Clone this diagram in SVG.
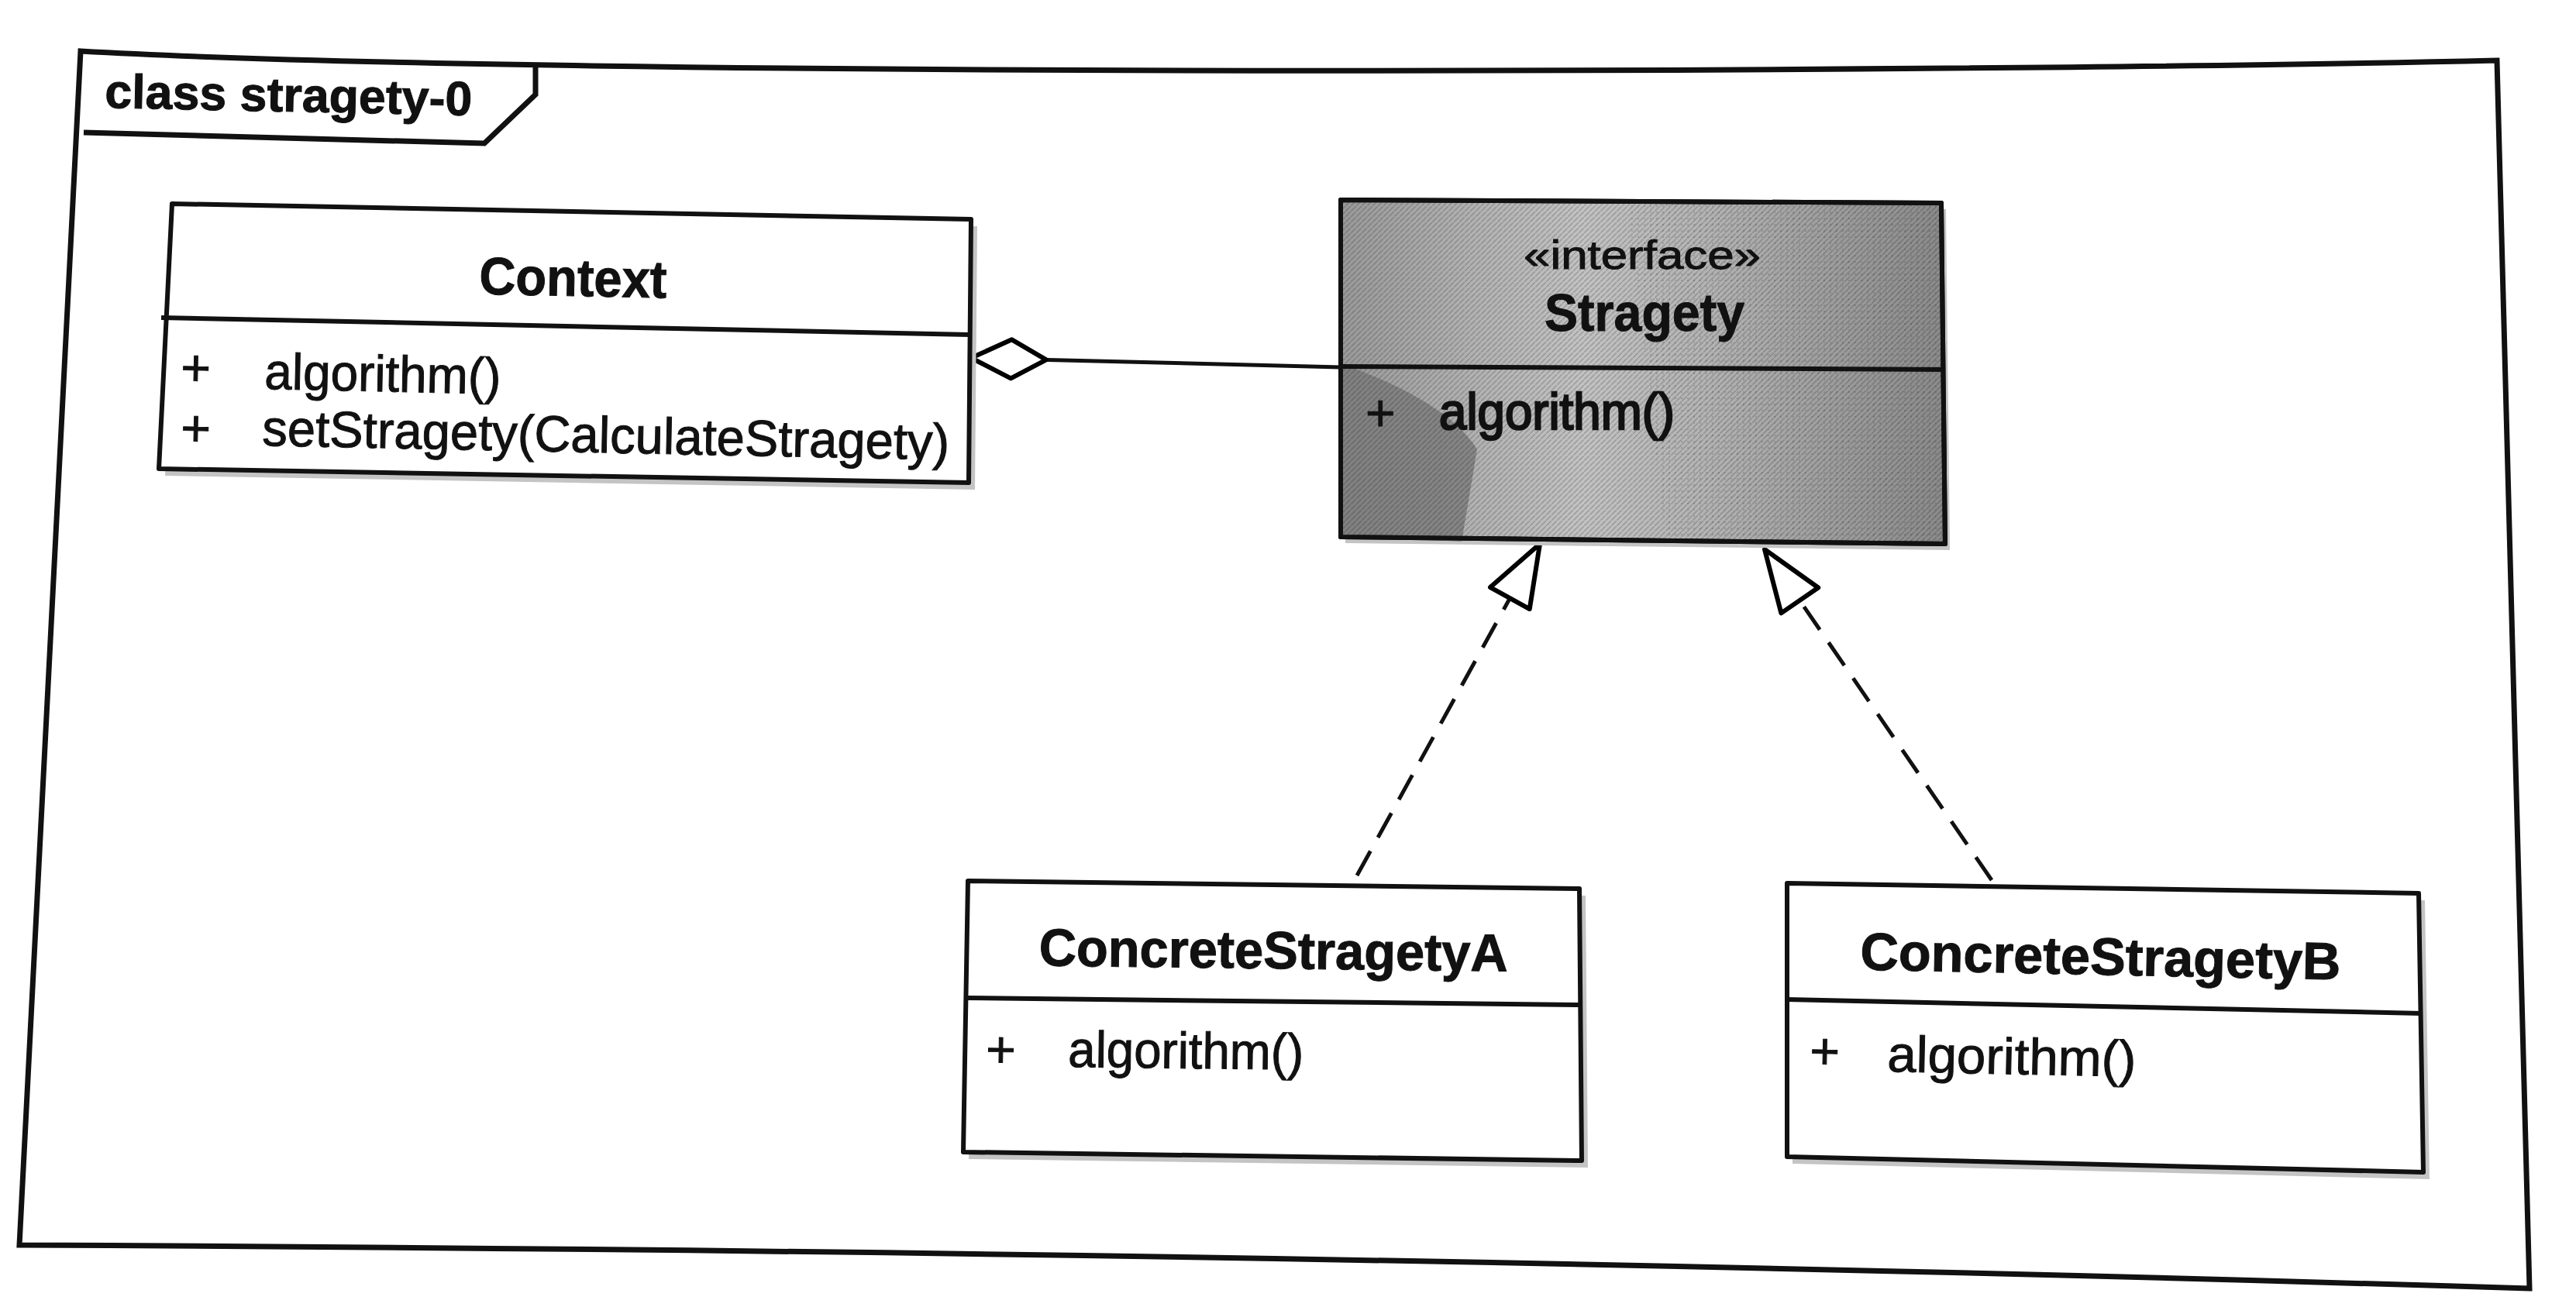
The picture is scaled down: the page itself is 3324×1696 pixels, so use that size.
<svg xmlns="http://www.w3.org/2000/svg" width="3324" height="1696" viewBox="0 0 3324 1696">
<defs>
<linearGradient id="ifaceFill" x1="1730" y1="0" x2="2510" y2="0" gradientUnits="userSpaceOnUse">
<stop offset="0" stop-color="#999"/>
<stop offset="0.22" stop-color="#b2b2b2"/>
<stop offset="0.4" stop-color="#c2c2c2"/>
<stop offset="0.6" stop-color="#b4b4b4"/>
<stop offset="1" stop-color="#8a8a8a"/>
</linearGradient>
<pattern id="hatch" width="7" height="7" patternUnits="userSpaceOnUse">
<path d="M0,7 L7,0" stroke="#000" stroke-width="1.6" stroke-opacity="0.18"/>
</pattern>
<pattern id="dots" width="8" height="8" patternUnits="userSpaceOnUse">
<circle cx="2" cy="2" r="1.2" fill="#000" fill-opacity="0.14"/>
</pattern>
<marker id="hollowTri" viewBox="-4 -4 88 66" refX="80" refY="29" markerWidth="88" markerHeight="66" markerUnits="userSpaceOnUse" orient="auto">
<path d="M0,0 L80,29 L0,58 Z" fill="#fff" stroke="#000" stroke-width="6" stroke-linejoin="round"/>
</marker>
<marker id="diamond" viewBox="-4 -4 106 58" refX="0" refY="25" markerWidth="106" markerHeight="58" markerUnits="userSpaceOnUse" orient="auto">
<path d="M0,25 L52,0 L97,25 L52,50 Z" fill="#fff" stroke="#000" stroke-width="6" stroke-linejoin="round"/>
</marker>
</defs>
<style>
.frame{fill:none;stroke:#111;stroke-width:7;stroke-linejoin:miter}
.box{fill:#fff;stroke:#111;stroke-width:6;stroke-linejoin:round}
.shadow{fill:#c4c4c4}
.div{stroke:#111;stroke-width:6;fill:none}
.t{font-family:"Liberation Sans",Arial,sans-serif;fill:#111;stroke:#111;stroke-width:1}
.title{font-weight:bold;font-size:68px}
.mem{font-size:66px}
.stereo{font-size:52px}
.conn{fill:none;stroke:#111;stroke-width:5}
.dash{stroke-dasharray:36 20}
</style>
<rect x="0" y="0" width="3324" height="1696" fill="#fff"/>

<g id="frame">
<path class="frame" d="M104,66 C700,100 2500,95 3222,78 L3264,1663 Q1700,1615 25,1607 Z"/>
<path class="frame" d="M108,171 L625,185 L691,122 L691,82"/>
<text class="t" x="135" y="139" font-size="62" font-weight="bold" textLength="474" lengthAdjust="spacingAndGlyphs" transform="rotate(1.2 135 139)">class stragety-0</text>
</g>

<g id="connectors">
<path class="conn" d="M1253,462 L1730,474" marker-start="url(#diamond)"/>
<path class="conn dash" d="M1751,1130 L1987,702" marker-end="url(#hollowTri)"/>
<path class="conn dash" d="M2570,1136 L2277,709" marker-end="url(#hollowTri)"/>
</g>

<g id="node-context">
<polygon class="shadow" points="230,272 1261,292 1258,632 213,614"/>
<polygon class="box" points="222,263 1253,283 1250,623 205,605"/>
<path class="div" d="M208,410 L1251,432"/>
<text class="t title" x="739" y="382" text-anchor="middle" textLength="242" lengthAdjust="spacingAndGlyphs" transform="rotate(1.2 739 382)">Context</text>
<text class="t mem" x="233" y="497" transform="rotate(1.2 233 497)">+</text>
<text class="t mem" x="341" y="502" textLength="305" lengthAdjust="spacingAndGlyphs" transform="rotate(1.2 341 502)">algorithm()</text>
<text class="t mem" x="233" y="575" transform="rotate(1.2 233 575)">+</text>
<text class="t mem" x="338" y="575" textLength="887" lengthAdjust="spacingAndGlyphs" transform="rotate(1.2 338 575)">setStragety(CalculateStragety)</text>
</g>

<g id="node-stragety">
<polygon class="shadow" points="1736,266 2511,270 2516,710 1736,701"/>
<polygon class="box" points="1730,258 2505,262 2510,702 1730,693" style="fill:url(#ifaceFill)"/>
<path d="M1733,470 Q1870,520 1906,580 L1886,699 L1733,691 Z" fill="#7a7a7a" fill-opacity="0.8"/>
<polygon points="1730,258 2505,262 2510,702 1730,693" fill="url(#hatch)"/>
<polygon points="2100,262 2505,262 2510,702 2150,700" fill="url(#dots)"/>
<polygon points="1730,258 2505,262 2510,702 1730,693" fill="none" stroke="#111" stroke-width="6" stroke-linejoin="round"/>
<path class="div" d="M1730,473 L2508,477"/>
<text class="t stereo" x="2119" y="347" text-anchor="middle" textLength="306" lengthAdjust="spacingAndGlyphs">«interface»</text>
<text class="t title" x="2122" y="427" text-anchor="middle" textLength="258" lengthAdjust="spacingAndGlyphs">Stragety</text>
<text class="t mem" x="1762" y="556">+</text>
<text class="t mem" x="1857" y="554" textLength="304" lengthAdjust="spacingAndGlyphs" style="stroke-width:2.5">algorithm()</text>
</g>

<g id="node-concrete-a">
<polygon class="shadow" points="1256,1146 2046,1156 2049,1507 1250,1496"/>
<polygon class="box" points="1249,1137 2038,1147 2041,1498 1243,1487"/>
<path class="div" d="M1246,1288 L2040,1297"/>
<text class="t title" x="1643" y="1250" text-anchor="middle" textLength="605" lengthAdjust="spacingAndGlyphs" transform="rotate(0.7 1643 1250)">ConcreteStragetyA</text>
<text class="t mem" x="1272" y="1377" transform="rotate(0.7 1272 1377)">+</text>
<text class="t mem" x="1378" y="1377" textLength="304" lengthAdjust="spacingAndGlyphs" transform="rotate(0.7 1378 1377)">algorithm()</text>
</g>

<g id="node-concrete-b">
<polygon class="shadow" points="2313,1149 3129,1162 3135,1522 2313,1502"/>
<polygon class="box" points="2306,1140 3121,1153 3127,1513 2306,1493"/>
<path class="div" d="M2306,1290 L3124,1308"/>
<text class="t title" x="2710" y="1258" text-anchor="middle" textLength="620" lengthAdjust="spacingAndGlyphs" transform="rotate(1.2 2710 1258)">ConcreteStragetyB</text>
<text class="t mem" x="2335" y="1379" transform="rotate(1.2 2335 1379)">+</text>
<text class="t mem" x="2435" y="1383" textLength="321" lengthAdjust="spacingAndGlyphs" transform="rotate(1.2 2435 1383)">algorithm()</text>
</g>
</svg>
